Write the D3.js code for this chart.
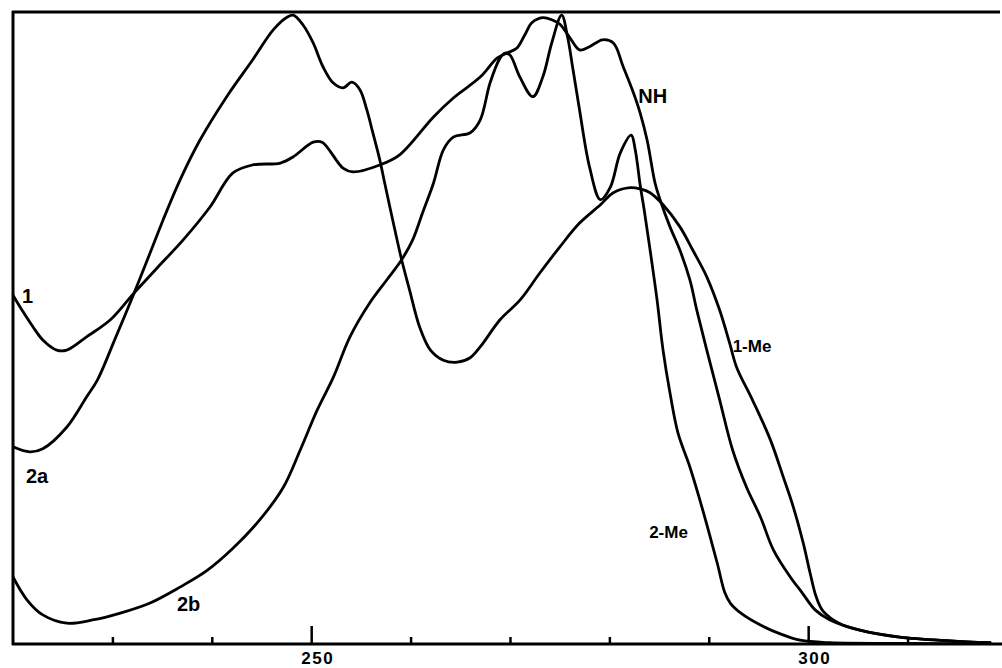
<!DOCTYPE html>
<html>
<head>
<meta charset="utf-8">
<script src="https://cdn.jsdelivr.net/npm/d3@7"></script>
<style>
  html, body { margin: 0; padding: 0; background: #fff; }
  svg { display: block; }
  text { font-family: "Liberation Sans", Arial, sans-serif; font-weight: bold; fill: #000; }
</style>
</head>
<body>
<svg id="chart" width="1002" height="668"></svg>
<script>
// ---- Data (wavelength nm, relative absorbance 0..1) ----
const curve1Nm = [220.0,221.0,222.0,223.0,224.4,225.4,227.4,229.8,232.1,234.5,237.1,239.8,242.1,244.1,246.9,248.2,250.2,251.1,253.2,254.2,256.9,258.9,262.3,264.3,267.0,268.7,269.7,270.7,271.5,272.2,273.3,274.3,275.0,276.0,277.0,278.0,279.3,280.4,281.4,282.4,283.1,283.8,284.6,285.1,286.1,287.1,288.1,288.8,289.8,291.1,292.4,293.8,295.2,296.5,298.2,299.4,300.7,302.2,305.2,309.2,314.3,318.3];
const curve1Abs = [0.552,0.526,0.502,0.481,0.465,0.465,0.486,0.513,0.554,0.595,0.639,0.691,0.745,0.758,0.761,0.771,0.794,0.794,0.753,0.747,0.758,0.774,0.834,0.864,0.897,0.927,0.935,0.943,0.964,0.983,0.991,0.987,0.981,0.960,0.940,0.945,0.956,0.951,0.913,0.873,0.840,0.797,0.729,0.703,0.660,0.623,0.576,0.528,0.465,0.386,0.307,0.248,0.201,0.149,0.106,0.081,0.054,0.038,0.022,0.011,0.005,0.002];

const curve2aNm = [220.0,221.7,223.0,225.4,227.4,228.5,230.3,232.1,233.8,235.1,236.8,238.8,241.5,244.1,246.2,247.6,248.2,249.2,250.2,251.2,252.2,253.2,254.1,254.9,255.6,256.2,256.9,257.4,258.2,259.1,259.9,260.9,262.0,263.3,264.7,266.0,267.0,269.0,271.0,273.0,275.0,277.0,279.1,280.4,282.1,283.1,284.1,285.4,287.1,288.4,289.8,291.1,292.1,292.8,294.4,296.2,297.5,298.5,299.5,300.2,300.8,301.5,303.2,305.2,309.2,314.3,318.3];
const curve2aAbs = [0.312,0.304,0.309,0.343,0.391,0.418,0.484,0.552,0.619,0.671,0.734,0.797,0.866,0.924,0.972,0.992,0.995,0.979,0.951,0.913,0.888,0.880,0.889,0.877,0.845,0.809,0.766,0.729,0.671,0.608,0.560,0.502,0.465,0.449,0.446,0.453,0.470,0.513,0.544,0.587,0.628,0.666,0.695,0.714,0.722,0.720,0.714,0.695,0.660,0.623,0.581,0.528,0.476,0.438,0.386,0.323,0.264,0.217,0.160,0.112,0.075,0.052,0.032,0.022,0.011,0.005,0.002];

const curve2bNm = [220.0,221.4,223.0,225.4,228.0,230.8,233.8,236.8,239.5,242.1,244.8,247.2,248.9,250.6,252.2,253.9,255.9,257.6,259.1,260.2,261.2,262.3,263.3,264.3,266.0,267.0,268.0,269.0,269.5,270.0,271.0,272.3,273.3,274.2,275.2,275.8,276.3,277.0,278.0,279.1,280.1,281.1,282.2,282.6,283.1,283.5,284.1,284.8,285.4,286.1,286.9,288.1,289.1,290.1,290.9,291.6,292.2,293.3,295.2,297.2,299.2,302.2,309.2,318.3];
const curve2bAbs = [0.106,0.070,0.046,0.033,0.038,0.049,0.065,0.090,0.116,0.151,0.196,0.248,0.307,0.370,0.421,0.486,0.540,0.576,0.608,0.639,0.682,0.729,0.782,0.802,0.809,0.829,0.888,0.927,0.935,0.932,0.897,0.866,0.897,0.951,0.995,0.960,0.913,0.845,0.755,0.703,0.723,0.777,0.805,0.782,0.726,0.687,0.623,0.544,0.465,0.397,0.334,0.280,0.228,0.172,0.125,0.082,0.064,0.048,0.030,0.016,0.006,0.002,0.001,0.000];

const curveNames = ["1", "2a", "2b"];
const tickValues = [230, 240, 250, 260, 270, 280, 290, 300, 310];
const labeledTicks = [250, 300];

const curveLabels = [
  { text: "1",    nm: 220.9, abs: 0.540, size: 20 },
  { text: "2a",   nm: 221.3, abs: 0.255, size: 20 },
  { text: "2b",   nm: 236.5, abs: 0.052, size: 20 },
  { text: "NH",   nm: 282.9, abs: 0.856, size: 20 },
  { text: "1-Me", nm: 292.4, abs: 0.462, size: 17 },
  { text: "2-Me", nm: 284.0, abs: 0.168, size: 17 }
];

// ---- Layout ----
const padL = 13, padT = 12, baseY = 644, padR = 1000;
const svg = d3.select("#chart");

const x = d3.scaleLinear().domain([220, 319.3]).range([padL, padR]);
const y = d3.scaleLinear().domain([0, 1]).range([baseY, padT]);

// frame: left and top borders, bottom axis line
svg.append("line").attr("x1", padL).attr("x2", padL).attr("y1", padT - 1).attr("y2", baseY + 1)
  .attr("stroke", "#000").attr("stroke-width", 3);
svg.append("line").attr("x1", padL - 1).attr("x2", padR).attr("y1", padT).attr("y2", padT)
  .attr("stroke", "#000").attr("stroke-width", 3);
svg.append("line").attr("x1", padL - 1).attr("x2", 1002).attr("y1", baseY).attr("y2", baseY)
  .attr("stroke", "#000").attr("stroke-width", 3);

// axis ticks (pointing up into the plot)
const axis = d3.axisBottom(x)
  .tickValues(tickValues)
  .tickSize(0)
  .tickPadding(8)
  .tickFormat(d => labeledTicks.includes(d) ? String(d) : "");
const gAxis = svg.append("g").attr("transform", `translate(0,${baseY})`).call(axis);
gAxis.select(".domain").remove();
gAxis.selectAll(".tick line")
  .attr("y2", d => labeledTicks.includes(d) ? -18 : -7)
  .attr("stroke", "#000").attr("stroke-width", 2.5);
gAxis.selectAll(".tick text")
  .attr("dy", "0.71em")
  .attr("dx", 6)
  .style("font-family", '"Liberation Sans", Arial, sans-serif')
  .style("font-weight", "bold")
  .style("font-size", "17px")
  .style("letter-spacing", "1.5px")
  .attr("fill", "#000");

// curves
const line = d3.line()
  .x(d => x(d[0]))
  .y(d => y(d[1]))
  .curve(d3.curveCatmullRom.alpha(0.5));

const series = [
  d3.zip(curve1Nm, curve1Abs),
  d3.zip(curve2aNm, curve2aAbs),
  d3.zip(curve2bNm, curve2bAbs)
];

svg.append("clipPath").attr("id", "plotclip")
  .append("rect").attr("x", padL).attr("y", padT).attr("width", 1002 - padL).attr("height", baseY - padT);

svg.append("g").attr("clip-path", "url(#plotclip)")
  .selectAll("path")
  .data(series)
  .join("path")
  .attr("class", (d, i) => "curve curve-" + curveNames[i])
  .attr("d", line)
  .attr("fill", "none")
  .attr("stroke", "#000")
  .attr("stroke-width", 2.8)
  .attr("stroke-linejoin", "round")
  .attr("stroke-linecap", "round");

// labels
svg.append("g").selectAll("text")
  .data(curveLabels)
  .join("text")
  .attr("x", d => x(d.nm))
  .attr("y", d => y(d.abs))
  .style("font-size", d => d.size + "px")
  .text(d => d.text);
</script>
</body>
</html>
